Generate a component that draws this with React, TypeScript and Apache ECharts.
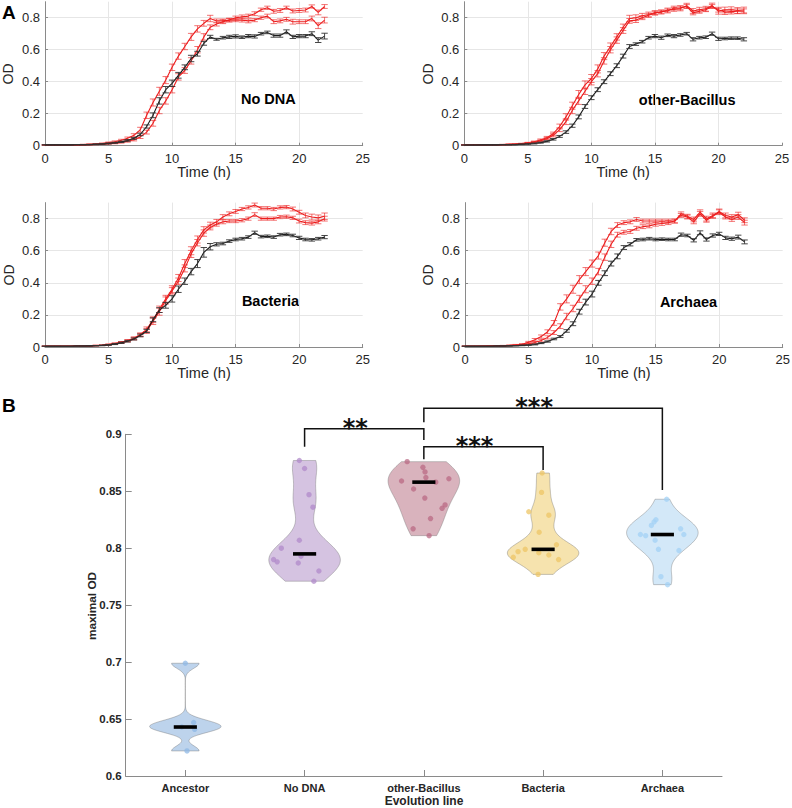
import React, { useEffect, useRef } from "react";
import * as echarts from "echarts";

// ---------- Panel A: growth curves ----------
const TIME = [0,0.5,1,1.5,2,2.5,3,3.5,4,4.5,5,5.5,6,6.5,7,7.5,8,8.5,9,9.5,10,10.5,11,11.5,12,12.5,13,13.5,14,14.5,15,15.5,16,16.5,17,17.5,18,18.5,19,19.5,20,20.5,21,21.5,22];

const noDnaBlack = [0.005,0.005,0.005,0.005,0.005,0.006,0.006,0.007,0.009,0.011, 0.014,0.018,0.024,0.033,0.046,0.07,0.12,0.19,0.28,0.35,0.39,0.44,0.49,0.545,0.575,0.64,0.68, 0.665,0.675,0.68,0.683,0.678,0.685,0.683,0.70,0.708,0.688,0.688,0.712,0.68,0.685,0.685,0.70,0.66,0.685];
const noDnaBlackErr = [0.001,0.001,0.001,0.001,0.001,0.001,0.001,0.001,0.002,0.002, 0.003,0.003,0.004,0.005,0.006,0.008,0.01,0.015,0.02,0.02,0.02,0.018,0.015,0.02,0.015,0.012,0.01, 0.006,0.008,0.01,0.01,0.008,0.01,0.01,0.008,0.008,0.01,0.01,0.012,0.01,0.01,0.01,0.012,0.015,0.018];
const noDnaRed1 = [0.005,0.005,0.005,0.005,0.006,0.006,0.007,0.009,0.011,0.014, 0.019,0.025,0.034,0.046,0.065,0.10,0.19,0.27,0.34,0.41,0.49,0.56,0.62,0.68,0.73,0.765,0.795, 0.78,0.78,0.785,0.785,0.785,0.78,0.785,0.80,0.81,0.775,0.78,0.79,0.775,0.775,0.775,0.795,0.75,0.785];
const noDnaRed1Err = [0.001,0.001,0.001,0.001,0.001,0.001,0.002,0.002,0.002,0.003, 0.004,0.005,0.006,0.008,0.01,0.015,0.02,0.022,0.025,0.022,0.02,0.02,0.02,0.022,0.02,0.018,0.02, 0.012,0.012,0.012,0.01,0.012,0.012,0.01,0.01,0.012,0.012,0.012,0.012,0.015,0.012,0.012,0.015,0.018,0.018];
const noDnaRed2 = [0.004,0.004,0.004,0.005,0.005,0.005,0.006,0.007,0.008,0.010, 0.013,0.016,0.021,0.028,0.038,0.055,0.085,0.14,0.22,0.28,0.35,0.43,0.47,0.53,0.60,0.68,0.74, 0.76,0.775,0.785,0.80,0.805,0.81,0.825,0.85,0.862,0.84,0.845,0.862,0.842,0.845,0.848,0.87,0.833,0.87];
const noDnaRed2Err = [0.001,0.001,0.001,0.001,0.001,0.001,0.001,0.002,0.002,0.002, 0.003,0.004,0.005,0.006,0.008,0.01,0.012,0.018,0.02,0.02,0.02,0.02,0.018,0.02,0.02,0.02,0.015, 0.012,0.012,0.01,0.01,0.012,0.012,0.012,0.01,0.01,0.012,0.012,0.01,0.012,0.012,0.012,0.01,0.015,0.012];

const obBlack = [0.004,0.004,0.004,0.005,0.005,0.005,0.006,0.006,0.007,0.009, 0.011,0.014,0.019,0.027,0.04,0.058,0.085,0.125,0.18,0.245,0.30,0.35,0.40,0.45,0.50,0.56,0.62, 0.635,0.65,0.675,0.685,0.675,0.69,0.685,0.692,0.70,0.665,0.675,0.678,0.70,0.668,0.67,0.672,0.672,0.665];
const obBlackErr = [0.001,0.001,0.001,0.001,0.001,0.001,0.001,0.001,0.001,0.002, 0.002,0.003,0.003,0.004,0.005,0.006,0.008,0.01,0.012,0.012,0.012,0.012,0.012,0.012,0.012,0.012,0.012, 0.008,0.008,0.008,0.01,0.01,0.008,0.01,0.008,0.008,0.01,0.008,0.008,0.01,0.01,0.008,0.008,0.008,0.01];
const obRed1 = [0.005,0.005,0.005,0.005,0.006,0.006,0.007,0.008,0.010,0.013, 0.018,0.025,0.036,0.05,0.075,0.12,0.18,0.25,0.32,0.38,0.42,0.48,0.56,0.62,0.68,0.74,0.795, 0.80,0.812,0.82,0.832,0.835,0.848,0.852,0.858,0.875,0.842,0.85,0.856,0.876,0.84,0.848,0.85,0.845,0.848];
const obRed1Err = [0.001,0.001,0.001,0.001,0.001,0.001,0.001,0.002,0.002,0.002, 0.003,0.004,0.006,0.008,0.01,0.015,0.02,0.022,0.025,0.025,0.025,0.025,0.022,0.022,0.02,0.02,0.02, 0.018,0.015,0.015,0.012,0.012,0.012,0.012,0.015,0.015,0.015,0.015,0.015,0.015,0.018,0.018,0.018,0.018,0.018];
const obRed2 = [0.005,0.005,0.005,0.005,0.006,0.006,0.007,0.008,0.009,0.012, 0.016,0.022,0.031,0.044,0.065,0.10,0.15,0.22,0.28,0.34,0.40,0.45,0.53,0.60,0.66,0.72,0.78, 0.785,0.80,0.815,0.828,0.838,0.842,0.86,0.862,0.87,0.83,0.84,0.85,0.87,0.85,0.835,0.838,0.84,0.84];
const obRed2Err = [0.001,0.001,0.001,0.001,0.001,0.001,0.001,0.002,0.002,0.002, 0.003,0.004,0.005,0.007,0.01,0.012,0.018,0.02,0.022,0.02,0.02,0.02,0.02,0.02,0.02,0.018,0.015, 0.015,0.012,0.012,0.012,0.01,0.012,0.012,0.012,0.012,0.012,0.012,0.012,0.012,0.015,0.015,0.015,0.015,0.015];

const bacBlack = [0.005,0.005,0.005,0.005,0.005,0.006,0.006,0.007,0.008,0.010, 0.013,0.018,0.026,0.036,0.05,0.072,0.10,0.17,0.23,0.26,0.30,0.36,0.41,0.47,0.52,0.59,0.625, 0.64,0.645,0.66,0.67,0.675,0.685,0.712,0.688,0.69,0.685,0.70,0.702,0.695,0.68,0.67,0.668,0.675,0.685];
const bacBlackErr = [0.001,0.001,0.001,0.001,0.001,0.001,0.001,0.001,0.001,0.002, 0.002,0.003,0.004,0.005,0.006,0.008,0.01,0.012,0.015,0.018,0.02,0.02,0.02,0.02,0.025,0.03,0.02, 0.01,0.008,0.008,0.008,0.008,0.008,0.01,0.008,0.008,0.008,0.008,0.008,0.008,0.01,0.008,0.008,0.008,0.01];
const bacRed1 = [0.005,0.005,0.005,0.005,0.005,0.006,0.006,0.007,0.009,0.011, 0.015,0.021,0.029,0.04,0.055,0.078,0.11,0.17,0.235,0.30,0.36,0.43,0.52,0.60,0.67,0.73,0.76, 0.78,0.81,0.83,0.845,0.86,0.87,0.885,0.865,0.865,0.86,0.87,0.872,0.86,0.84,0.82,0.81,0.805,0.815];
const bacRed1Err = [0.001,0.001,0.001,0.001,0.001,0.001,0.001,0.002,0.002,0.002, 0.003,0.004,0.005,0.006,0.008,0.01,0.015,0.018,0.02,0.022,0.022,0.022,0.025,0.025,0.022,0.02,0.018, 0.015,0.015,0.012,0.012,0.01,0.01,0.012,0.01,0.01,0.01,0.01,0.01,0.012,0.012,0.015,0.018,0.018,0.02];
const bacRed2 = [0.005,0.005,0.005,0.005,0.005,0.006,0.006,0.007,0.009,0.011, 0.015,0.02,0.028,0.038,0.052,0.074,0.10,0.16,0.22,0.29,0.35,0.41,0.49,0.58,0.65,0.71,0.745, 0.765,0.78,0.785,0.785,0.79,0.80,0.825,0.80,0.80,0.80,0.81,0.812,0.805,0.785,0.775,0.772,0.78,0.80];
const bacRed2Err = [0.001,0.001,0.001,0.001,0.001,0.001,0.001,0.002,0.002,0.002, 0.003,0.004,0.005,0.006,0.008,0.01,0.015,0.02,0.022,0.022,0.02,0.02,0.022,0.022,0.02,0.02,0.015, 0.012,0.012,0.01,0.01,0.01,0.01,0.012,0.01,0.01,0.01,0.01,0.01,0.01,0.012,0.012,0.012,0.012,0.015];

const arBlack = [0.005,0.005,0.005,0.005,0.005,0.006,0.006,0.007,0.008,0.01, 0.012,0.016,0.024,0.034,0.05,0.065,0.10,0.145,0.22,0.28,0.33,0.40,0.46,0.52,0.565,0.62,0.64, 0.668,0.67,0.675,0.67,0.672,0.67,0.67,0.70,0.695,0.665,0.712,0.67,0.695,0.705,0.68,0.675,0.685,0.655];
const arBlackErr = [0.001,0.001,0.001,0.001,0.001,0.001,0.001,0.001,0.001,0.002, 0.002,0.003,0.003,0.004,0.005,0.006,0.008,0.012,0.015,0.018,0.018,0.015,0.015,0.015,0.015,0.012,0.01, 0.008,0.008,0.008,0.008,0.008,0.008,0.008,0.01,0.008,0.01,0.012,0.01,0.01,0.01,0.01,0.01,0.012,0.012];
const arRed1 = [0.005,0.005,0.005,0.006,0.006,0.007,0.008,0.01,0.013,0.017, 0.03,0.045,0.065,0.095,0.15,0.25,0.30,0.36,0.42,0.47,0.52,0.57,0.65,0.72,0.76,0.775,0.78, 0.795,0.785,0.785,0.785,0.785,0.785,0.785,0.83,0.815,0.795,0.84,0.80,0.82,0.845,0.82,0.81,0.825,0.79];
const arRed1Err = [0.001,0.001,0.001,0.001,0.001,0.001,0.002,0.002,0.003,0.004, 0.005,0.008,0.01,0.012,0.015,0.02,0.025,0.025,0.025,0.025,0.022,0.022,0.022,0.02,0.015,0.012,0.012, 0.012,0.012,0.012,0.012,0.012,0.012,0.012,0.012,0.012,0.015,0.015,0.015,0.015,0.015,0.015,0.015,0.015,0.015];
const arRed2 = [0.005,0.005,0.005,0.005,0.006,0.006,0.007,0.009,0.011,0.014, 0.02,0.028,0.04,0.06,0.09,0.13,0.19,0.24,0.30,0.36,0.41,0.47,0.56,0.64,0.70,0.715,0.72, 0.74,0.75,0.755,0.765,0.77,0.775,0.785,0.82,0.81,0.78,0.83,0.79,0.815,0.84,0.81,0.795,0.81,0.775];
const arRed2Err = [0.001,0.001,0.001,0.001,0.001,0.001,0.002,0.002,0.002,0.003, 0.004,0.006,0.008,0.01,0.012,0.015,0.02,0.02,0.022,0.022,0.02,0.02,0.02,0.02,0.015,0.012,0.012, 0.012,0.012,0.012,0.012,0.012,0.012,0.012,0.012,0.012,0.012,0.015,0.012,0.012,0.015,0.012,0.012,0.015,0.015];

const PANEL_TITLES = ["No DNA", "other-Bacillus", "Bacteria", "Archaea"];
const X_TICK_MAX = 25;
const Y_MAX_A = 0.9;

// ---------- Panel B: maximal OD ----------
const GROUP_NAMES = ["Ancestor", "No DNA", "other-Bacillus", "Bacteria", "Archaea"];
const ancestorOD = [0.699, 0.647, 0.643, 0.641, 0.622];
const ancestorJitter = [0.0, 0.07, -0.03, 0.078, 0.014];
const noDnaOD = [0.877, 0.870, 0.847, 0.836, 0.807, 0.800, 0.793, 0.790, 0.788, 0.787, 0.780, 0.771];
const noDnaJitter = [-0.044, 0.0, 0.037, 0.07, -0.044, -0.195, -0.03, -0.26, -0.23, -0.053, 0.12, 0.078];
const otherBacOD = [0.876, 0.871, 0.867, 0.862, 0.861, 0.859, 0.858, 0.852, 0.844, 0.838, 0.835, 0.826, 0.817, 0.811];
const otherBacJitter = [-0.14, -0.008, 0.01, 0.017, 0.21, -0.187, 0.1, -0.086, 0.008, 0.178, 0.153, 0.056, -0.09, 0.044];
const bacteriaOD = [0.866, 0.849, 0.832, 0.829, 0.814, 0.803, 0.799, 0.797, 0.796, 0.794, 0.792, 0.790, 0.777];
const bacteriaJitter = [-0.008, -0.013, -0.12, 0.048, -0.033, 0.112, -0.15, -0.21, -0.036, 0.048, -0.25, 0.13, -0.042];
const archaeaOD = [0.843, 0.825, 0.823, 0.820, 0.817, 0.812, 0.812, 0.811, 0.807, 0.799, 0.798, 0.775, 0.768];
const archaeaJitter = [0.036, -0.054, -0.07, -0.092, 0.153, 0.18, -0.184, -0.14, -0.061, -0.033, 0.139, -0.012, 0.044];
const MEDIANS = [0.643, 0.795, 0.858, 0.799, 0.812];

const BRACKET_FROM = [1, 2, 2];
const BRACKET_TO = [2, 4, 3];
const BRACKET_BAR = [0.9049, 0.9228, 0.8891];
const BRACKET_FROM_END = [0.8891, 0.9105, 0.878];
const BRACKET_TO_END = [0.895, 0.8511, 0.8687];
const BRACKET_LABEL = ["**", "***", "***"];

const FONT = "'Liberation Sans', Arial, Helvetica, sans-serif";
const AXIS = "#8a8a8a";
const TXT = "#262626";
const GRIDC = "#e6e6e6";
const RED = "#ec1c1c";
const RED_ERR = "rgba(236,40,40,0.72)";
const BLACK = "#1a1a1a";
const BLACK_ERR = "#333333";
const VIOLIN_FILL = ["#bdd3ec", "#d5c3e1", "#d9b3bd", "#f6e3ae", "#d3e8f8"];
const POINT_COLOR = ["#8fb8e6", "#b08ac9", "#b96a84", "#edc565", "#a3d1f5"];

const GROUP_VALUES = [ancestorOD, noDnaOD, otherBacOD, bacteriaOD, archaeaOD];
const GROUP_JITTER = [ancestorJitter, noDnaJitter, otherBacJitter, bacteriaJitter, archaeaJitter];

function median(arr: number[]) {
  const s = [...arr].sort((a, b) => a - b);
  const n = s.length;
  return n % 2 ? s[(n - 1) / 2] : (s[n / 2 - 1] + s[n / 2]) / 2;
}

// kernel density (MATLAB ksdensity default bandwidth), truncated at data range
function kdeProfile(vals: number[], steps = 90) {
  const n = vals.length;
  const med = median(vals);
  const mad = median(vals.map((v) => Math.abs(v - med)));
  const sig = mad / 0.6745;
  const bw = sig * Math.pow(4 / (3 * n), 0.2);
  const lo = Math.min(...vals);
  const hi = Math.max(...vals);
  const out: number[][] = [];
  for (let k = 0; k <= steps; k++) {
    const y = lo + ((hi - lo) * k) / steps;
    let d = 0;
    for (const v of vals) d += Math.exp(-0.5 * ((y - v) / bw) ** 2);
    out.push([y, d]);
  }
  const mx = Math.max(...out.map((p) => p[1]));
  return out.map(([y, d]) => [y, d / mx]);
}

const PROFILES = GROUP_VALUES.map((g) => kdeProfile(g));

const PANELS = [
  { curves: [[noDnaRed2, noDnaRed2Err, "r"], [noDnaRed1, noDnaRed1Err, "r"], [noDnaBlack, noDnaBlackErr, "k"]] },
  { curves: [[obRed2, obRed2Err, "r"], [obRed1, obRed1Err, "r"], [obBlack, obBlackErr, "k"]] },
  { curves: [[bacRed2, bacRed2Err, "r"], [bacRed1, bacRed1Err, "r"], [bacBlack, bacBlackErr, "k"]] },
  { curves: [[arRed2, arRed2Err, "r"], [arRed1, arRed1Err, "r"], [arBlack, arBlackErr, "k"]] },
];

const GRIDS_A = [
  { left: 45, top: 1.7, width: 317.7, height: 144 },
  { left: 464.3, top: 1.7, width: 317.7, height: 144 },
  { left: 45, top: 202.6, width: 317.7, height: 144.4 },
  { left: 465, top: 202.6, width: 317.7, height: 144.4 },
];
const TITLE_POS = [[268.3, 99], [687.2, 100], [270.5, 301], [688.5, 301.7]];
const XNAME_POS = [[204, 171.7], [623.2, 171.7], [204, 372.5], [623.9, 372.5]];
const YNAME_POS = [[8, 74], [428, 74], [8.7, 275], [428, 275]];

function errorRender(rows: number[][], color: string) {
  return (params: any, api: any) => {
    const [t, v, e] = rows[params.dataIndex];
    const top = api.coord([t, v + e]);
    const bot = api.coord([t, v - e]);
    const c = 3.2;
    const st = { stroke: color, lineWidth: 0.9 };
    return {
      type: "group",
      children: [
        { type: "line", shape: { x1: top[0], y1: top[1], x2: bot[0], y2: bot[1] }, style: st },
        { type: "line", shape: { x1: top[0] - c, y1: top[1], x2: top[0] + c, y2: top[1] }, style: st },
        { type: "line", shape: { x1: bot[0] - c, y1: bot[1], x2: bot[0] + c, y2: bot[1] }, style: st },
      ],
    };
  };
}

function buildOption() {
  const grid: any[] = GRIDS_A.map((g) => ({ ...g, containLabel: false, outerBoundsMode: "none" }));
  grid.push({ left: 125.7, top: 434.3, width: 596.3, height: 341.7, containLabel: false, outerBoundsMode: "none" });

  const xAxis: any[] = GRIDS_A.map((_, gi) => ({
    type: "value",
    gridIndex: gi,
    min: 0,
    max: X_TICK_MAX,
    interval: 5,
    axisLine: { show: true, onZero: false, lineStyle: { color: AXIS, width: 1 } },
    axisTick: { show: true, inside: true, length: 3, lineStyle: { color: AXIS } },
    axisLabel: { color: TXT, fontSize: 13, fontFamily: FONT, margin: 6 },
    splitLine: { show: true, showMinLine: false, showMaxLine: false, lineStyle: { color: GRIDC, width: 1 } },
  }));
  xAxis.push({
    type: "category",
    gridIndex: 4,
    data: GROUP_NAMES,
    boundaryGap: true,
    axisLine: { show: true, onZero: false, lineStyle: { color: AXIS, width: 1 } },
    axisTick: { show: true, inside: true, length: 6, alignWithLabel: true, lineStyle: { color: AXIS } },
    axisLabel: { color: TXT, fontSize: 11, fontWeight: "bold", fontFamily: FONT, margin: 6 },
    splitLine: { show: false },
  });

  const yAxis: any[] = GRIDS_A.map((_, gi) => ({
    type: "value",
    gridIndex: gi,
    min: 0,
    max: Y_MAX_A,
    interval: 0.2,
    axisLine: { show: true, onZero: false, lineStyle: { color: AXIS, width: 1 } },
    axisTick: { show: true, inside: true, length: 3, lineStyle: { color: AXIS } },
    axisLabel: {
      color: TXT,
      fontSize: 13,
      fontFamily: FONT,
      margin: 5,
      showMaxLabel: false,
      formatter: (v: number) => (v > 0.85 ? "" : String(Math.round(v * 10) / 10)),
    },
    splitLine: { show: true, showMinLine: false, showMaxLine: false, lineStyle: { color: GRIDC, width: 1 } },
  }));
  yAxis.push({
    type: "value",
    gridIndex: 4,
    min: 0.6,
    max: 0.9,
    interval: 0.05,
    axisLine: { show: true, onZero: false, lineStyle: { color: AXIS, width: 1 } },
    axisTick: { show: true, inside: true, length: 6, lineStyle: { color: AXIS } },
    axisLabel: {
      color: TXT,
      fontSize: 11.5,
      fontWeight: "bold",
      fontFamily: FONT,
      margin: 4,
      formatter: (v: number) => String(Math.round(v * 100) / 100),
    },
    splitLine: { show: false },
  });

  const series: any[] = [];
  PANELS.forEach((p, pi) => {
    p.curves.forEach(([vals, errs, kind]: any) => {
      const isRed = kind === "r";
      series.push({
        type: "line",
        xAxisIndex: pi,
        yAxisIndex: pi,
        data: TIME.map((t, i) => [t, vals[i]]),
        showSymbol: false,
        symbol: "none",
        silent: true,
        lineStyle: { color: isRed ? RED : BLACK, width: 1.1 },
        itemStyle: { color: isRed ? RED : BLACK },
        z: isRed ? 2 : 4,
      });
      const rows = TIME.map((t, i) => [t, vals[i], errs[i]]);
      series.push({
        type: "custom",
        xAxisIndex: pi,
        yAxisIndex: pi,
        data: rows,
        encode: { x: 0, y: 1 },
        silent: true,
        renderItem: errorRender(rows, isRed ? RED_ERR : BLACK_ERR),
        z: isRed ? 3 : 5,
      });
    });
  });

  // violins
  series.push({
    type: "custom",
    xAxisIndex: 4,
    yAxisIndex: 4,
    data: GROUP_NAMES.map((_, i) => [i, MEDIANS[i]]),
    encode: { x: 0, y: 1 },
    silent: true,
    z: 2,
    renderItem: (params: any, api: any) => {
      const gi = params.dataIndex;
      const prof = PROFILES[gi];
      const half = 0.3 * api.size([1, 0])[0];
      const right = prof.map(([y, d]) => {
        const pt = api.coord([gi, y]);
        return [pt[0] + d * half, pt[1]];
      });
      const left = prof
        .slice()
        .reverse()
        .map(([y, d]) => {
          const pt = api.coord([gi, y]);
          return [pt[0] - d * half, pt[1]];
        });
      return {
        type: "polygon",
        shape: { points: right.concat(left) },
        style: { fill: VIOLIN_FILL[gi], stroke: "rgba(120,120,120,0.6)", lineWidth: 0.7 },
      };
    },
  });

  // points
  const pointRows: number[][] = [];
  GROUP_VALUES.forEach((g, gi) => g.forEach((v, j) => pointRows.push([gi, v, GROUP_JITTER[gi][j]])));
  series.push({
    type: "custom",
    xAxisIndex: 4,
    yAxisIndex: 4,
    data: pointRows,
    encode: { x: 0, y: 1 },
    silent: true,
    z: 3,
    renderItem: (params: any, api: any) => {
      const [gi, v, jit] = pointRows[params.dataIndex];
      const pt = api.coord([gi, v]);
      const bw = api.size([1, 0])[0];
      return {
        type: "circle",
        shape: { cx: pt[0] + jit * bw, cy: pt[1], r: 2.7 },
        style: { fill: POINT_COLOR[gi], opacity: 0.75 },
      };
    },
  });

  // median bars
  series.push({
    type: "custom",
    xAxisIndex: 4,
    yAxisIndex: 4,
    data: GROUP_NAMES.map((_, i) => [i, MEDIANS[i]]),
    encode: { x: 0, y: 1 },
    silent: true,
    z: 4,
    renderItem: (params: any, api: any) => {
      const gi = params.dataIndex;
      const pt = api.coord([gi, MEDIANS[gi]]);
      const hw = 0.097 * api.size([1, 0])[0];
      return {
        type: "line",
        shape: { x1: pt[0] - hw, y1: pt[1], x2: pt[0] + hw, y2: pt[1] },
        style: { stroke: "#000", lineWidth: 3.6 },
      };
    },
  });

  // significance brackets
  series.push({
    type: "custom",
    xAxisIndex: 4,
    yAxisIndex: 4,
    data: BRACKET_LABEL.map((_, i) => [BRACKET_FROM[i], BRACKET_BAR[i]]),
    encode: { x: 0, y: 1 },
    silent: true,
    clip: false,
    z: 5,
    renderItem: (params: any, api: any) => {
      const i = params.dataIndex;
      const a = api.coord([BRACKET_FROM[i], BRACKET_FROM_END[i]]);
      const b = api.coord([BRACKET_FROM[i], BRACKET_BAR[i]]);
      const c = api.coord([BRACKET_TO[i], BRACKET_BAR[i]]);
      const d = api.coord([BRACKET_TO[i], BRACKET_TO_END[i]]);
      return {
        type: "group",
        children: [
          {
            type: "polyline",
            shape: { points: [a, b, c, d] },
            style: { stroke: "#111", lineWidth: 1.5, fill: "none" },
          },
          {
            type: "text",
            x: (b[0] + c[0]) / 2 - 9,
            y: b[1] - 1,
            style: {
              text: BRACKET_LABEL[i],
              fontFamily: "'DejaVu Sans', sans-serif",
              fontSize: 24,
              fontWeight: "bold",
              fill: "#111",
              align: "center",
              verticalAlign: "middle",
            },
          },
        ],
      };
    },
  });

  const graphic: any[] = [];
  const txt = (x: number, y: number, text: string, size: number, weight: string, extra: any = {}) => ({
    type: "text",
    x,
    y,
    silent: true,
    ...extra,
    style: {
      text,
      fontSize: size,
      fontWeight: weight,
      fontFamily: FONT,
      fill: extra.fill || TXT,
      align: extra.align || "center",
      verticalAlign: "middle",
    },
  });
  graphic.push(txt(2, 12, "A", 19, "bold", { align: "left", fill: "#000" }));
  graphic.push(txt(2, 405.5, "B", 19, "bold", { align: "left", fill: "#000" }));
  PANEL_TITLES.forEach((t, i) => graphic.push(txt(TITLE_POS[i][0], TITLE_POS[i][1], t, 14.5, "bold", { fill: "#000" })));
  XNAME_POS.forEach((p) => graphic.push(txt(p[0], p[1], "Time (h)", 14.5, "normal")));
  YNAME_POS.forEach((p) => graphic.push(txt(p[0], p[1], "OD", 14, "normal", { rotation: Math.PI / 2 })));
  graphic.push(txt(92, 606, "maximal OD", 11.8, "bold", { rotation: Math.PI / 2 }));
  graphic.push(txt(424, 801, "Evolution line", 12, "bold"));

  return {
    animation: false,
    backgroundColor: "#ffffff",
    textStyle: { fontFamily: FONT },
    grid,
    xAxis,
    yAxis,
    series,
    graphic,
  };
}

export default function App() {
  const ref = useRef<HTMLDivElement>(null);
  useEffect(() => {
    if (!ref.current) return;
    const chart = echarts.init(ref.current, undefined, { renderer: "svg" });
    chart.setOption(buildOption() as any);
    return () => chart.dispose();
  }, []);
  return (
    <div
      ref={ref}
      style={{ position: "fixed", left: 0, top: 0, width: 792, height: 808, background: "#fff" }}
    />
  );
}
